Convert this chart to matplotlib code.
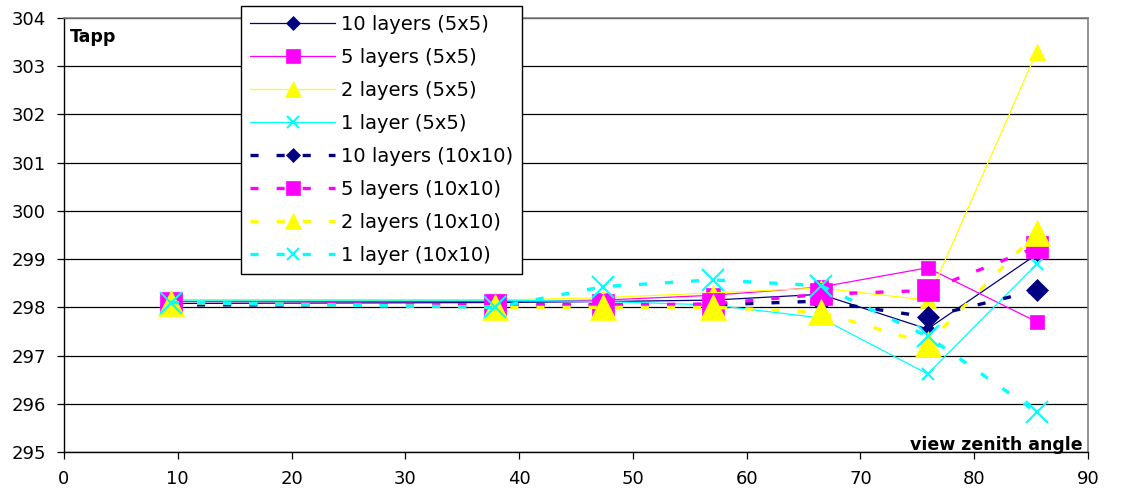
import matplotlib
matplotlib.use("Agg")
import matplotlib.pyplot as plt
from matplotlib.lines import Line2D

plt.rcParams['font.family'] = ['DejaVu Sans']
plt.rcParams['lines.scale_dashes'] = False

angles = [9.4, 37.9, 47.4, 57.0, 66.5, 75.9, 85.5]

labels = ['10 layers (5x5)', '5 layers (5x5)', '2 layers (5x5)', '1 layer (5x5)',
          '10 layers (10x10)', '5 layers (10x10)', '2 layers (10x10)', '1 layer (10x10)']

l10_5 = [298.08, 298.10, 298.12, 298.15, 298.27, 297.55, 299.10]
l5_5 = [298.12, 298.12, 298.15, 298.25, 298.42, 298.82, 297.70]
l2_5 = [298.15, 298.15, 298.20, 298.30, 298.40, 298.15, 303.30]
l1_5 = [298.15, 298.15, 298.12, 298.05, 297.78, 296.62, 298.90]
l10_10 = [298.05, 298.05, 298.05, 298.05, 298.13, 297.80, 298.35]
l5_10 = [298.10, 298.05, 298.05, 298.07, 298.27, 298.35, 299.25]
l2_10 = [298.10, 298.00, 298.00, 298.00, 297.90, 297.25, 299.55]
l1_10 = [298.10, 298.00, 298.43, 298.57, 298.45, 297.40, 295.82]

series = [l10_5, l5_5, l2_5, l1_5, l10_10, l5_10, l2_10, l1_10]
colors = ['#000080', '#FF00FF', '#FFFF00', '#00FFFF'] * 2
markers = ['D', 's', '^', 'x'] * 2
small = {'D': 7, 's': 10, '^': 12, 'x': 8}
big = {'D': 11, 's': 16, '^': 19, 'x': 16}
dash = (0, (5.8, 13))

fig = plt.figure(figsize=(11.22, 4.93), dpi=100)
ax = fig.add_axes([64 / 1122, 41 / 493, 1024 / 1122, 434 / 493])

handles = []
for i, (vals, c, m, lab) in enumerate(zip(series, colors, markers, labels)):
    dashed = i >= 4
    ls = dash if dashed else '-'
    lw = 2.4 if dashed else 0.9
    ms = big[m] if dashed else small[m]
    ax.plot(angles, vals, color=c, linestyle=ls, linewidth=lw, marker=m,
            markersize=ms, markerfacecolor=c, markeredgecolor=c,
            markeredgewidth=1.5 if m == 'x' else 0.5, clip_on=False)
    handles.append(Line2D([], [], color=c, linestyle=ls, linewidth=lw, marker=m,
                          markersize=small[m], markerfacecolor=c, markeredgecolor=c,
                          markeredgewidth=1.5 if m == 'x' else 0.5))

ax.set_xlim(0, 90)
ax.set_ylim(295, 304)
ax.set_xticks(range(0, 91, 10))
ax.set_yticks(range(295, 305))
ax.yaxis.grid(True, color='black', linewidth=0.9)
ax.set_axisbelow(True)
ax.tick_params(direction='out', length=5, width=0.9, labelsize=13)
ax.tick_params(axis='y', pad=8)
ax.tick_params(axis='x', pad=8)
for s in ['left', 'bottom']:
    ax.spines[s].set_color('black')
    ax.spines[s].set_linewidth(1.0)
for s in ['top', 'right']:
    ax.spines[s].set_color('#808080')
    ax.spines[s].set_linewidth(1.2)

ax.text(0.006, 0.977, 'Tapp', transform=ax.transAxes, ha='left', va='top',
        fontsize=12.5, fontweight='bold')
ax.text(0.995, 0.005, 'view zenith angle', transform=ax.transAxes, ha='right',
        va='baseline', fontsize=12.5, fontweight='bold')

leg = fig.legend(handles, labels, loc='upper left',
                 bbox_to_anchor=(241 / 1122, 1 - 6 / 493), borderaxespad=0,
                 frameon=True, fancybox=False, framealpha=1, edgecolor='black',
                 fontsize=14, handlelength=4.4, handletextpad=0.3,
                 labelspacing=0.72, borderpad=0.45)
leg.get_frame().set_linewidth(1.0)

plt.savefig('out.png', dpi=100)
